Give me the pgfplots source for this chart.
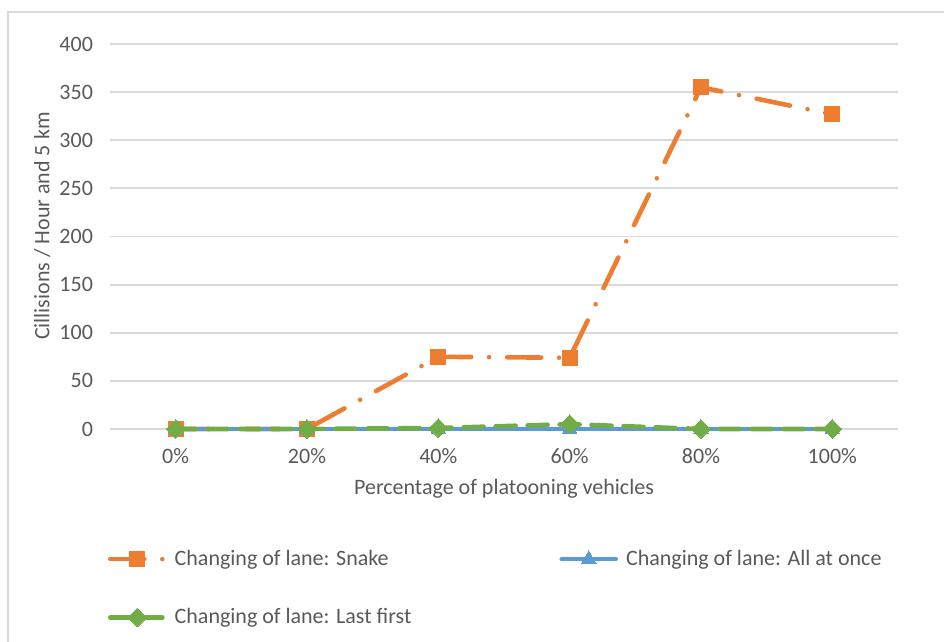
\documentclass[border=0pt]{standalone}
\usepackage{pgfplots}
\pgfplotsset{compat=1.18}
\usepackage{fontspec}
\setmainfont{Carlito}
\definecolor{cOrange}{HTML}{ED7D31}
\definecolor{cBlue}{HTML}{5B9BD5}
\definecolor{cGreen}{HTML}{70AD47}
\definecolor{cGrid}{HTML}{D9D9D9}
\definecolor{cText}{HTML}{595959}

\begin{document}
\begin{tikzpicture}[font=\fontsize{11}{13}\selectfont]
  \useasboundingbox (0,0) rectangle (472pt,321pt);
  % chart frame (only left and top edges are visible)
  \draw[cGrid, line width=1pt] (4pt,0) -- (4pt,315pt) -- (472pt,315pt);

  \begin{axis}[
      at={(55pt,106.5pt)}, anchor=south west,
      scale only axis,
      width=394pt, height=192.5pt,
      xmin=-0.5, xmax=5.5,
      ymin=0, ymax=400,
      ytick={0,50,...,400},
      xtick={0,...,5},
      xticklabels={0\%,20\%,40\%,60\%,80\%,100\%},
      axis line style={draw=none},
      major tick length=0pt,
      ymajorgrids=true,
      grid style={cGrid, line width=0.9pt},
      clip=false,
      tick label style={text=cText},
      /pgf/number format/assume math mode=true,
      yticklabel style={xshift=-5pt},
      xticklabel style={yshift=-6pt},
      xlabel={Percentage of platooning vehicles},
      ylabel={Cillisions / Hour and 5 km},
      label style={text=cText},
      xlabel style={at={(axis description cs:0.5,-0.156)}, anchor=center},
      ylabel style={at={(axis description cs:-0.086,0.527)}, anchor=center},
      legend columns=2,
      legend cell align=left,
      legend style={
        draw=none, fill=none, inner sep=0pt,
        at={(axis description cs:-0.003,-0.303)}, anchor=north west,
        text=cText,
        /tikz/every even column/.append style={column sep=70pt},
        row sep=16pt,
        nodes={inner xsep=4pt},
      },
      legend image code/.code={
        \draw[mark repeat=2, mark phase=2, #1]
          plot coordinates {(0cm,0cm) (0.475cm,0cm) (0.95cm,0cm)};
      },
    ]

    \addplot[
      color=cOrange, line width=2.3pt, line cap=round,
      dash pattern=on 17pt off 9pt on 0pt off 9pt,
      mark=square*, mark size=3.7pt,
      mark options={solid, fill=cOrange, draw=cOrange, line width=0pt},
    ] coordinates {
      (0,0) (1,0) (2,75) (3,74) (4,355) (5,327)
    };
    \addlegendentry{Changing of lane: Snake}

    \addplot[
      color=cBlue, line width=2.3pt, line cap=round,
      mark=triangle*, mark size=4.2pt,
      mark options={solid, fill=cBlue, draw=cBlue, line width=0pt},
    ] coordinates {
      (0,0) (1,0) (2,0) (3,0) (4,0) (5,0)
    };
    \addlegendentry{Changing of lane: All at once}

    \addplot[
      color=cGreen, line width=2.3pt, line cap=round,
      dash pattern=on 10pt off 6pt,
      mark=square*, mark size=3.3pt,
      mark options={solid, rotate=45, fill=cGreen, draw=cGreen, line width=0pt},
    ] coordinates {
      (0,0) (1,0) (2,1) (3,5) (4,0) (5,0)
    };
    \addlegendentry{Changing of lane: Last first}

  \end{axis}
\end{tikzpicture}
\end{document}
